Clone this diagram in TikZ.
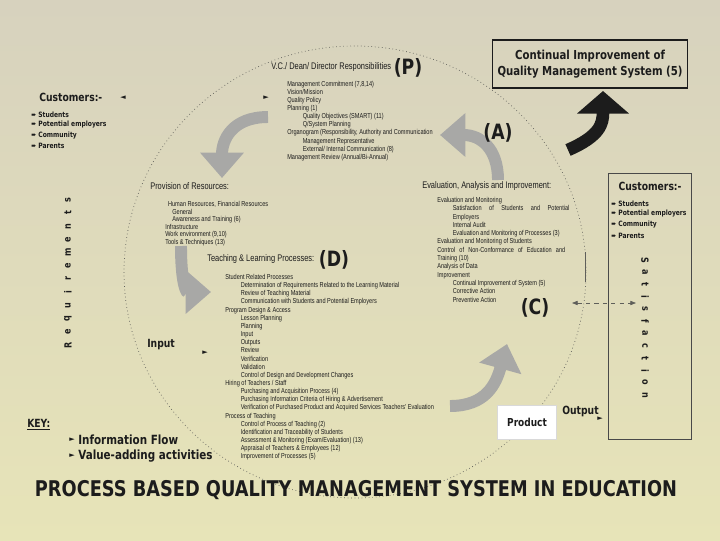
\documentclass[tikz,border=0pt]{standalone}
\usepackage{fontspec}
\usetikzlibrary{arrows.meta}
\newfontfamily\bodyfont[FakeStretch=0.78]{Liberation Sans}
\newfontfamily\headfont[FakeStretch=0.82]{DejaVu Sans}
\newfontfamily\symfont{DejaVu Sans}
\definecolor{ink}{RGB}{28,28,28}
\definecolor{bgtop}{RGB}{215,210,190}
\definecolor{bgbot}{RGB}{231,228,184}
\definecolor{flowgray}{RGB}{168,168,166}
\definecolor{ringgray}{RGB}{95,95,90}
\newcommand\ind{\hspace*{11pt}}

\tikzset{
  body/.style={font=\bodyfont\fontsize{5.1}{5.75}\selectfont, text=ink, align=left, anchor=north west, inner sep=0pt},
  headtext/.style={font=\bodyfont\fontsize{6.8}{7}\selectfont, text=ink, anchor=west, inner sep=0pt},
  phase/.style={font=\headfont\bfseries\fontsize{15}{15}\selectfont, text=ink, inner sep=0pt},
  boldtext/.style={font=\headfont\bfseries\fontsize{8}{9}\selectfont, text=ink, anchor=west, inner sep=0pt},
  bullet/.style={font=\headfont\bfseries\fontsize{5.2}{6}\selectfont, text=ink, anchor=west, inner sep=0pt},
  vletter/.style={font=\headfont\bfseries\fontsize{7}{7}\selectfont, text=ink, inner sep=0pt},
  tipmark/.style={font=\symfont\fontsize{5}{5}\selectfont, text=ink, inner sep=0pt},
  cibox/.style={draw=ink, line width=1pt, minimum width=139pt, minimum height=34pt, align=center,
    font=\headfont\bfseries\fontsize{8.8}{11}\selectfont, text=ink, inner sep=2pt},
  prodbox/.style={fill=white, draw=white!85!black, line width=0.3pt, minimum width=42pt, minimum height=24pt,
    font=\headfont\bfseries\fontsize{7.8}{9}\selectfont, text=ink},
  pdca/.style={line width=8.5pt, draw=flowgray, -{Triangle[length=18pt,width=30pt]}},
}

\begin{document}
\begin{tikzpicture}[x=0.025cm, y=-0.025cm]
\useasboundingbox (0,0) rectangle (720,540);
\shade[top color=bgtop, bottom color=bgbot] (0,0) rectangle (720,540);

%Information flow ring
\draw[ringgray, dotted, line width=0.5pt] (355,272) ellipse [x radius=231, y radius=226];

%PDCA arrows
\coordinate (p0) at (268,117);
\coordinate (p1) at (222,178);
\draw[pdca] (p0) .. controls (232,117) and (222,140) .. (p1);
\coordinate (a0) at (498,180);
\coordinate (a1) at (440,135);
\draw[pdca] (a0) .. controls (498,148) and (480,135) .. (a1);
\coordinate (d0) at (181,246);
\coordinate (d1) at (211,292);
\draw[pdca] (d0) .. controls (181,282) and (186,292) .. (d1);
\coordinate (c0) at (450,406);
\coordinate (c1) at (507,344);
\draw[pdca] (c0) .. controls (486,406) and (496,384) .. (c1);

%Continual improvement
\node[cibox] (ci) at (590,64) {Continual Improvement of\\Quality Management System (5)};
\coordinate (k0) at (568,150);
\coordinate (k1) at (603,91);
\draw[line width=9pt, ink, -{Triangle[length=16pt,width=36pt]}] (k0) .. controls (600,136) and (603,124) .. (k1);

%Plan
\node[headtext] (vc) at (271,67) {V.C./ Dean/ Director Responsibilities};
\node[phase] (P) at (408,68) {(P)};
\node[tipmark] (pin) at (266,98) {►};
\node[body] (pbody) at (287,81) {Management Commitment (7,8,14)\\Vision/Mission\\Quality Policy\\Planning (1)\\\ind Quality Objectives (SMART) (11)\\\ind Q/System Planning\\Organogram (Responsibility, Authority and Communication\\\ind Management Representative\\\ind External/ Internal Communication (8)\\Management Review (Annual/Bi-Annual)};

%Resources
\node[headtext] (prov) at (150,186) {Provision of Resources:};
\node[body, font=\bodyfont\fontsize{5.1}{5.4}\selectfont] (provbody) at (165,201) {\hspace*{2pt}Human Resources, Financial Resources\\\hspace*{5pt}General\\\hspace*{5pt}Awareness and Training (6)\\Infrastructure\\Work environment (9,10)\\Tools \& Techniques (13)};

%Act
\node[headtext] (eval) at (422,186) {Evaluation, Analysis and Improvement:};
\node[phase] (A) at (498,133) {(A)};
\node[body, font=\bodyfont\fontsize{5.1}{5.9}\selectfont] (evalbody) at (437,197) {Evaluation and Monitoring\\\ind\makebox[83pt][s]{Satisfaction of Students and Potential}\\\ind Employers\\\ind Internal Audit\\\ind Evaluation and Monitoring of Processes (3)\\Evaluation and Monitoring of Students\\\makebox[91pt][s]{Control of Non-Conformance of Education and}\\Training (10)\\Analysis of Data\\Improvement\\\ind Continual Improvement of System (5)\\\ind Corrective Action\\\ind Preventive Action};
\node[phase] (C) at (535,308) {(C)};

%Do
\node[headtext] (teach) at (207,259) {Teaching \& Learning Processes:};
\node[phase] (D) at (334,260) {(D)};
\node[body, font=\bodyfont\fontsize{5.1}{5.8}\selectfont] (teachbody) at (225,274) {Student Related Processes\\\ind Determination of Requirements Related to the Learning Material\\\ind Review of Teaching Material\\\ind Communication with Students and Potential Employers\\Program Design \& Access\\\ind Lesson Planning\\\ind Planning\\\ind Input\\\ind Outputs\\\ind Review\\\ind Verification\\\ind Validation\\\ind Control of Design and Development Changes\\Hiring of Teachers / Staff\\\ind Purchasing and Acquisition Process (4)\\\ind Purchasing Information Criteria of Hiring \& Advertisement\\\ind Verification of Purchased Product and Acquired Services Teachers' Evaluation\\Process of Teaching\\\ind Control of Process of Teaching (2)\\\ind Identification and Traceability of Students\\\ind Assessment \& Monitoring (Exam/Evaluation) (13)\\\ind Appraisal of Teachers \& Employees (12)\\\ind Improvement of Processes (5)};

%Customers (left)
\node[boldtext] (custL) at (39,97) {Customers:-};
\node[tipmark] (custLtip) at (123,98) {◄};
\node[bullet] (l1) at (31,115) {➨ Students};
\node[bullet] (l2) at (31,125) {➨ Potential employers};
\node[bullet] (l3) at (31,136) {➨ Community};
\node[bullet] (l4) at (31,146) {➨ Parents};
\foreach \ch [count=\i] in {R,e,q,u,i,r,e,m,e,n,t,s}
  \node[vletter, rotate=90] (req\i) at (68,{345-13.2*(\i-1)}) {\ch};

%Customers (right)
\node[draw=ink!80, line width=0.5pt, minimum width=59.5pt, minimum height=189pt] (custbox) at (650,306) {};
\node[boldtext, anchor=center] (custR) at (650,186) {Customers:-};
\node[bullet] (r1) at (611,204) {➨ Students};
\node[bullet] (r2) at (611,214) {➨ Potential employers};
\node[bullet] (r3) at (611,225) {➨ Community};
\node[bullet] (r4) at (611,236) {➨ Parents};
\foreach \ch [count=\i] in {S,a,t,i,s,f,a,c,t,i,o,n}
  \node[vletter, rotate=-90] (sat\i) at (645,{260+12.27*(\i-1)}) {\ch};
\coordinate (ringtop) at (585,252);
\coordinate (ringbot) at (585,282);
\draw[ringgray, line width=0.5pt] (ringtop) -- (ringbot);
\coordinate (ring) at (572,303);
\coordinate (satin) at (636,303);
\draw[ringgray, dashed, line width=0.5pt, {Triangle[length=4pt,width=3pt]}-{Triangle[length=4pt,width=3pt]}] (ring) -- (satin);

%Input / Output
\node[boldtext] (input) at (147,345) {Input};
\node[tipmark] (inputtip) at (205,353) {►};
\node[prodbox] (product) at (527,422) {Product};
\node[boldtext] (output) at (562,411) {Output};
\node[tipmark] (outputtip) at (600,419) {►};

%Key
\node[boldtext] (key) at (27,425) {\underline{KEY:}};
\node[tipmark] (key1) at (72,440) {►};
\node[boldtext, font=\headfont\bfseries\fontsize{9}{10}\selectfont] (keyinfo) at (78,440) {Information Flow};
\node[tipmark] (key2) at (72,456) {►};
\node[boldtext, font=\headfont\bfseries\fontsize{9}{10}\selectfont] (keyvalue) at (78,456) {Value-adding activities};

%Title
\node[font=\headfont\bfseries\fontsize{15.4}{17}\selectfont, text=ink, inner sep=0pt] (title) at (356,490) {PROCESS BASED QUALITY MANAGEMENT SYSTEM IN EDUCATION};
\end{tikzpicture}
\end{document}
